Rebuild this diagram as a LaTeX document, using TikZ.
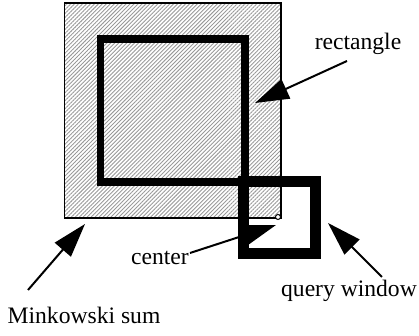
\documentclass[tikz,border=0pt]{standalone}
\usepackage{fontspec}
\setmainfont{Liberation Serif}
\usepackage{tikz}
\usetikzlibrary{arrows.meta,patterns.meta}
\tikzset{
  msum/.style={draw=black, line width=0.75pt, fill=gray!15,
    pattern={Lines[angle=45,distance=1.4pt,line width=0.45pt]}, pattern color=gray!80},
  rect/.style={draw=black, line width=4pt},
  qwin/.style={draw=black, line width=5.3pt},
  pointer/.style={draw=black, line width=1pt, -{Triangle[length=17pt,width=10.5pt]}},
  lab/.style={font=\fontsize{11.8}{14}\selectfont, inner sep=0pt, anchor=base},
}

\begin{document}
\begin{tikzpicture}[x=0.5pt,y=-0.5pt]
  \useasboundingbox (0,0) rectangle (419,336);
  \def\h{36}
  \coordinate (C) at (279.5,217.5);
  % minkowski sum, rectangle and query window
  \draw[msum] (64.5,3) rectangle (281,218);
  \draw[rect] (100.5,39) rectangle (245,182);
  \draw[qwin] (243.5,181.5) rectangle (315.5,253.5);
  \draw[fill=white, line width=0.5pt] (278,217) circle (2.5);
  % labels
  \node[lab] (rectlab) at (358,50) {rectangle};
  \node[lab] (centerlab) at (160,265) {center};
  \node[lab] (qwinlab) at (349,297) {query window};
  \node[lab] (msumlab) at (84,324) {Minkowski sum};
  % arrows
  \coordinate (rtail) at (347,61);
  \coordinate (rtip) at (255,103);
  \coordinate (ctail) at (190,253);
  \coordinate (ctip) at (276,225);
  \coordinate (qtail) at (382,277);
  \coordinate (qtip) at (328,223);
  \coordinate (mtail) at (28,290);
  \coordinate (mtip) at (85,224);
  \draw[pointer] (rtail) -- (rtip);
  \draw[pointer] (ctail) -- (ctip);
  \draw[pointer] (qtail) -- (qtip);
  \draw[pointer] (mtail) -- (mtip);
\end{tikzpicture}
\end{document}
